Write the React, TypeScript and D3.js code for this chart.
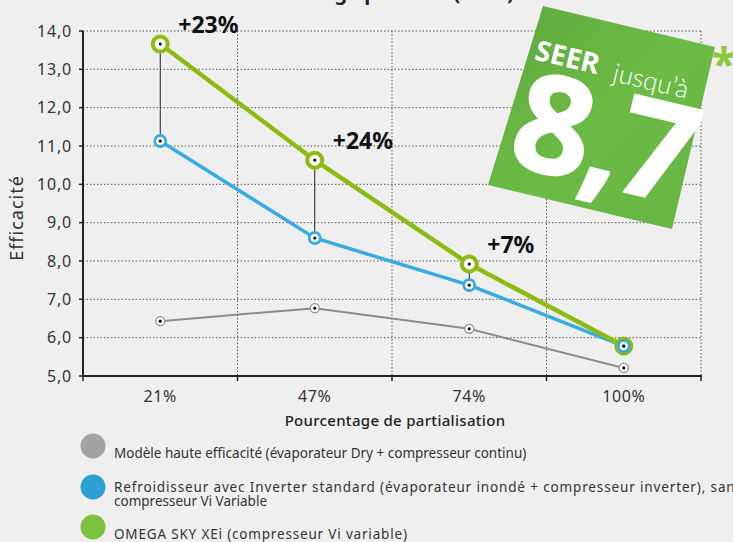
import React from "react";
import * as d3 from "d3";

// data
const categories = ["21%", "47%", "74%", "100%"];
const grayValues = [6.43, 6.77, 6.23, 5.21];
const blueValues = [11.13, 8.6, 7.37, 5.78];
const greenValues = [13.66, 10.63, 7.92, 5.78];
const gainLabels = ["+23%", "+24%", "+7%"];
const yTicks = [5, 6, 7, 8, 9, 10, 11, 12, 13, 14];
const legendLines = [
  ["Modèle haute efficacité (évaporateur Dry + compresseur continu)"],
  [
    "Refroidisseur avec Inverter standard (évaporateur inondé + compresseur inverter), sans",
    "compresseur Vi Variable",
  ],
  ["OMEGA SKY XEi (compresseur Vi variable)"],
];
// rendered widths of the legend lines that run wider in the original face
const legendWidths = [[null], [628, null], [293]];

const W = 733;
const H = 542;
const FONT = "'Noto Sans', sans-serif";
const GRAY = "#8c8c8c";
const BLUE = "#38abe0";
const GREEN = "#8cbc12";
const legendColors = ["#a3a3a7", "#2d9fd1", "#7cc242"];

export default function App() {
  const x = d3.scaleBand().domain(categories).range([83, 701]);
  const y = d3.scaleLinear().domain([5, 14]).range([376, 31]);
  const cx = (i: number) => (x(categories[i]) as number) + x.bandwidth() / 2;
  const line = d3
    .line<number>()
    .x((_, i) => cx(i))
    .y((d) => y(d));
  const fmt = (v: number) => d3.format(".1f")(v).replace(".", ",");
  const edges = categories.map((c) => (x(c) as number) + x.bandwidth());

  return (
    <div style={{ position: "fixed", left: 0, top: 0 }}>
      <svg width={W} height={H} style={{ display: "block", fontFamily: FONT }}>
        <defs>
          <linearGradient id="badge" x1="0" y1="0" x2="1" y2="1">
            <stop offset="0" stopColor="#5ca83c" />
            <stop offset="0.5" stopColor="#6cbb45" />
            <stop offset="1" stopColor="#66b443" />
          </linearGradient>
        </defs>
        <rect width={W} height={H} fill="#efefef" />

        {/* title, cut by the top edge as in the original */}
        <text x={345} y={0} textAnchor="middle" fontSize={20} fontWeight={700} fill="#222">
          Efficacité à charge partielle (SEER)
        </text>

        {/* grid */}
        {yTicks.slice(1).map((t) => (
          <line key={t} x1={83} x2={701} y1={y(t)} y2={y(t)} stroke="#555" strokeWidth={1} strokeDasharray="1.5,2" />
        ))}
        {edges.map((e, i) => (
          <line key={i} x1={e} x2={e} y1={y(14)} y2={y(5)} stroke="#555" strokeWidth={1} strokeDasharray="1.5,2" />
        ))}

        {/* axes */}
        <line x1={83} x2={83} y1={y(14)} y2={y(5)} stroke="#222" strokeWidth={2} />
        <line x1={83} x2={702} y1={y(5)} y2={y(5)} stroke="#222" strokeWidth={2} />
        {yTicks.map((t) => (
          <g key={t}>
            <line x1={79} x2={83} y1={y(t)} y2={y(t)} stroke="#222" strokeWidth={1.5} />
            <text x={72} y={y(t)} dy="0.36em" textAnchor="end" fontSize={16} letterSpacing={0.8} fill="#333">
              {fmt(t)}
            </text>
          </g>
        ))}
        {[83, ...edges].map((e, i) => (
          <line key={i} x1={e} x2={e} y1={y(5)} y2={y(5) + 5} stroke="#222" strokeWidth={1.5} />
        ))}
        {categories.map((c, i) => (
          <text key={c} x={cx(i)} y={402} textAnchor="middle" fontSize={16} letterSpacing={0.6} fill="#333">
            {c}
          </text>
        ))}
        <text x={395} y={426} textAnchor="middle" fontSize={15} fontWeight={500} letterSpacing={0.3} fill="#222">
          Pourcentage de partialisation
        </text>
        <text
          transform={`translate(23,218) rotate(-90)`}
          textAnchor="middle"
          fontSize={18}
          letterSpacing={1}
          fill="#333"
        >
          Efficacité
        </text>

        {/* badge */}
        <polygon points="543,6 715,47 672,229 488,185" fill="url(#badge)" />
        <g transform="translate(543,6) rotate(13.4)" fill="#fff">
          <text x={3} y={54} fontSize={28} fontWeight={700}>
            SEER
          </text>
          <text x={84} y={57} fontSize={26} fontWeight={300} fontFamily="Lato, sans-serif">
            jusqu’à
          </text>
          <text x={0} y={162} fontSize={136} fontWeight={700} letterSpacing={-5} stroke="#fff" strokeWidth={2}>
            8,7
          </text>
        </g>
        <text x={724} y={80} textAnchor="middle" fontSize={44} fontWeight={700} fill="#8dc63f">
          *
        </text>

        {/* series lines */}
        <path d={line(grayValues) as string} fill="none" stroke={GRAY} strokeWidth={2} />
        <path d={line(blueValues) as string} fill="none" stroke={BLUE} strokeWidth={3.5} />
        <path d={line(greenValues) as string} fill="none" stroke={GREEN} strokeWidth={4.5} />

        {/* gain connectors */}
        {gainLabels.map((g, i) => (
          <g key={g}>
            <line x1={cx(i)} x2={cx(i)} y1={y(greenValues[i])} y2={y(blueValues[i])} stroke="#222" strokeWidth={1} />
            <text x={cx(i) + 18} y={y(greenValues[i]) - 11} fontSize={23} fontWeight={700} fill="#111">
              {g}
            </text>
          </g>
        ))}

        {/* markers */}
        {grayValues.map((v, i) => (
          <circle key={"g" + i} cx={cx(i)} cy={y(v)} r={4.5} fill="#fff" stroke={GRAY} strokeWidth={1.3} />
        ))}
        {greenValues.map((v, i) => (
          <circle key={"gr" + i} cx={cx(i)} cy={y(v)} r={7.5} fill="#fff" stroke={GREEN} strokeWidth={4} />
        ))}
        {blueValues.map((v, i) => (
          <circle key={"b" + i} cx={cx(i)} cy={y(v)} r={5.5} fill="#fff" stroke={BLUE} strokeWidth={2.8} />
        ))}
        {[grayValues, blueValues, greenValues].map((vals, s) =>
          vals.map((v, i) => <circle key={s + "-" + i} cx={cx(i)} cy={y(v)} r={1.6} fill="#111" />)
        )}

        {/* legend */}
        {legendLines.map((lines, i) => {
          const cy = [446, 487, 527][i];
          return (
            <g key={i}>
              <circle cx={93} cy={cy} r={12.5} fill={legendColors[i]} />
              {lines.map((l, j) => {
                const w = legendWidths[i][j];
                return (
                  <text
                    key={j}
                    x={114}
                    y={cy + 12 - (lines.length - 1) * 7 + j * 14}
                    fontSize={13.5}
                    textLength={w ?? undefined}
                    lengthAdjust={w ? "spacing" : undefined}
                    fill="#333"
                  >
                    {l}
                  </text>
                );
              })}
            </g>
          );
        })}
      </svg>
    </div>
  );
}
